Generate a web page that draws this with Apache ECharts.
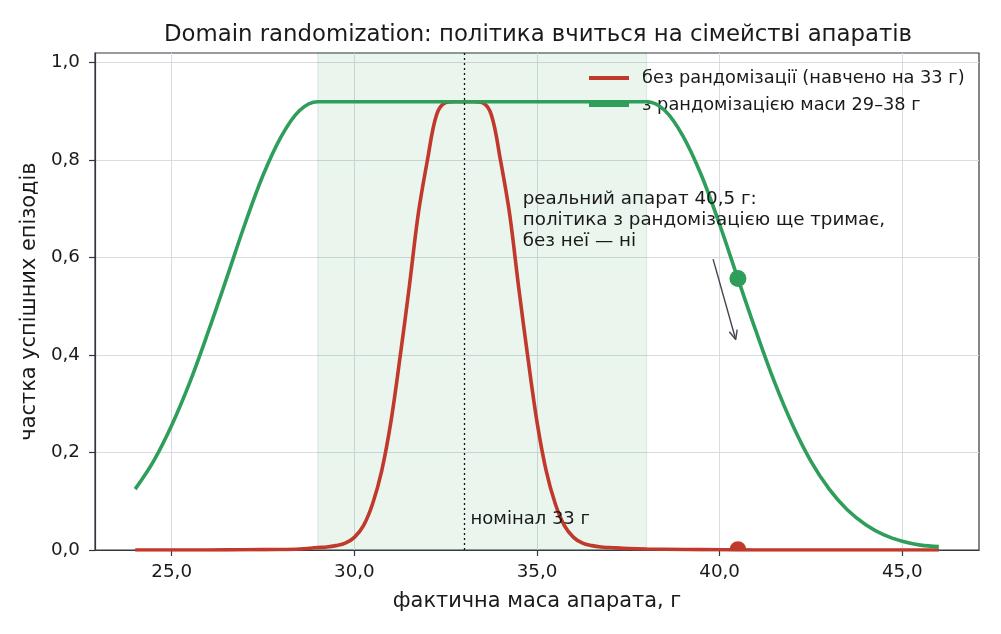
<!DOCTYPE html>
<html>
<head>
<meta charset="utf-8">
<script src="https://cdn.jsdelivr.net/npm/echarts@6/dist/echarts.min.js"></script>
<style>html,body{margin:0;padding:0;background:#fff}#c{width:1001px;height:634px}</style>
</head>
<body>
<div id="c"></div>
<script>
// ---- data ----
const redMass = [24, 25, 26, 27, 28, 28.5, 29, 29.25, 29.5, 29.75, 30, 30.25, 30.5, 30.75, 31, 31.25, 31.5, 31.75, 32, 32.25, 32.5, 32.75, 33, 33.25, 33.5, 33.75, 34, 34.25, 34.5, 34.75, 35, 35.25, 35.5, 35.75, 36, 36.25, 36.5, 36.75, 37, 37.5, 38, 39, 40, 41, 42, 43, 44, 45, 46];
const redSuccess = [0, 0, 0, 0.0005, 0.001, 0.002, 0.005, 0.006, 0.009, 0.014, 0.026, 0.05, 0.095, 0.163, 0.263, 0.395, 0.538, 0.69, 0.80, 0.893, 0.918, 0.92, 0.92, 0.92, 0.918, 0.893, 0.80, 0.69, 0.538, 0.395, 0.263, 0.163, 0.095, 0.05, 0.026, 0.014, 0.009, 0.006, 0.005, 0.003, 0.002, 0.001, 0.0005, 0, 0, 0, 0, 0, 0];
const greenMass = [24, 24.5, 25, 25.5, 26, 26.5, 27, 27.5, 28, 28.5, 29, 29.5, 30, 30.5, 31, 31.5, 32, 32.5, 33, 33.5, 34, 34.5, 35, 35.5, 36, 36.5, 37, 37.5, 38, 38.5, 39, 39.5, 40, 40.5, 41, 41.5, 42, 42.5, 43, 43.5, 44, 44.5, 45, 45.5, 46];
const greenSuccess = [0.125, 0.182, 0.256, 0.345, 0.448, 0.557, 0.668, 0.769, 0.849, 0.902, 0.92, 0.92, 0.92, 0.92, 0.92, 0.92, 0.92, 0.92, 0.92, 0.92, 0.92, 0.92, 0.92, 0.92, 0.92, 0.92, 0.92, 0.92, 0.92, 0.902, 0.849, 0.769, 0.668, 0.557, 0.448, 0.345, 0.256, 0.182, 0.125, 0.082, 0.052, 0.031, 0.018, 0.010, 0.007];
const xTicks = [25, 30, 35, 40, 45];
const yTicks = [0, 0.2, 0.4, 0.6, 0.8, 1.0];
const randBand = [29, 38];
const nominalMass = 33;
const realMass = 40.5;
const realRed = 0.0003;
const realGreen = 0.557;
const arrowFrom = [39.82, 0.597];
const arrowTo = [40.44, 0.432];
const notePos = [34.61, 0.676];
const nominalLabelPos = [33.18, 0.062];
const seriesNames = ['без рандомізації (навчено на 33 г)', 'з рандомізацією маси 29–38 г'];
const noteText = 'реальний апарат 40,5 г:\nполітика з рандомізацією ще тримає,\nбез неї — ні';
const nominalText = 'номінал 33 г';
const titleText = 'Domain randomization: політика вчиться на сімействі апаратів';
const xName = 'фактична маса апарата, г';
const yName = 'частка успішних епізодів';

const RED = '#c0392b', GREEN = '#2e9e5a', FONT = 'DejaVu Sans', INK = '#1a1a1a', AX = '#35353f';
const fmt = v => v.toFixed(1).replace('.', ',');
const zip = (a, b) => a.map((v, i) => [v, b[i]]);
const dotRender = color => function (params, api) {
  const p = api.coord([api.value(0), api.value(1)]);
  return {type: 'circle', shape: {cx: p[0], cy: p[1], r: 8.5}, style: {fill: color}};
};

const chart = echarts.init(document.getElementById('c'), null, {renderer: 'canvas'});
chart.setOption({
  animation: false,
  backgroundColor: '#fff',
  textStyle: {fontFamily: FONT},
  title: {text: titleText, left: 533, top: 19, textAlign: 'center',
    textStyle: {fontFamily: FONT, fontSize: 22.8, fontWeight: 'normal', color: INK}},
  legend: {orient: 'vertical', left: 589, top: 69, padding: 0, itemWidth: 40, itemHeight: 4, itemGap: 9, icon: 'rect',
    data: seriesNames, textStyle: {fontFamily: FONT, fontSize: 17.8, color: INK, padding: [0, 0, 0, 8]}},
  grid: {left: 95, right: 22, top: 53, bottom: 84, show: true, borderColor: AX, borderWidth: 1.2, backgroundColor: 'transparent'},
  xAxis: {type: 'value', min: 22.9, max: 47.1,
    name: xName, nameLocation: 'middle', nameGap: 41,
    nameTextStyle: {fontFamily: FONT, fontSize: 20.9, color: INK},
    axisLine: {show: true, onZero: false, lineStyle: {color: AX, width: 1.2}},
    axisTick: {show: true, length: 6, lineStyle: {color: AX, width: 1.2}, customValues: xTicks},
    axisLabel: {customValues: xTicks, formatter: fmt, margin: 13, fontFamily: FONT, fontSize: 18.3, color: INK},
    splitLine: {show: true, lineStyle: {color: '#dadae2', width: 1}}},
  yAxis: {type: 'value', min: 0, max: 1.02,
    name: yName, nameLocation: 'middle', nameGap: 46, nameRotate: 90,
    nameTextStyle: {fontFamily: FONT, fontSize: 20.9, color: INK},
    axisLine: {show: true, lineStyle: {color: AX, width: 1.2}},
    axisTick: {show: true, length: 6, lineStyle: {color: AX, width: 1.2}, customValues: yTicks},
    axisLabel: {customValues: yTicks, formatter: fmt, margin: 15, fontFamily: FONT, fontSize: 18.3, color: INK},
    splitLine: {show: true, lineStyle: {color: '#dadae2', width: 1}}},
  series: [
    {name: seriesNames[0], type: 'line', data: zip(redMass, redSuccess), showSymbol: false, smooth: 0.35,
      lineStyle: {color: RED, width: 3.6}, itemStyle: {color: RED}, z: 3,
      markArea: {silent: true, itemStyle: {color: 'rgba(46,158,90,0.10)', borderColor: 'rgba(46,158,90,0.16)', borderWidth: 1},
        data: [[{xAxis: randBand[0]}, {xAxis: randBand[1]}]]},
      markLine: {silent: true, symbol: 'none', label: {show: false},
        lineStyle: {color: '#111', type: [2, 3], width: 1.3}, data: [{xAxis: nominalMass}]}},
    {name: seriesNames[1], type: 'line', data: zip(greenMass, greenSuccess), showSymbol: false, smooth: 0.35,
      lineStyle: {color: GREEN, width: 3.6}, itemStyle: {color: GREEN}, z: 4},
    {type: 'custom', data: [[realMass, realRed]], renderItem: dotRender(RED), clip: true, z: 5, silent: true},
    {type: 'custom', data: [[realMass, realGreen]], renderItem: dotRender(GREEN), clip: true, z: 6, silent: true},
    {type: 'custom', z: 7, silent: true, data: [[arrowFrom[0], arrowFrom[1]]],
      renderItem: function (params, api) {
        const a = api.coord(arrowFrom), b = api.coord(arrowTo);
        const dx = b[0] - a[0], dy = b[1] - a[1], L = Math.hypot(dx, dy);
        const ux = dx / L, uy = dy / L, h = 10, ang = 0.42;
        const rot = (x, y, t) => [x * Math.cos(t) - y * Math.sin(t), x * Math.sin(t) + y * Math.cos(t)];
        const l1 = rot(-ux, -uy, ang), l2 = rot(-ux, -uy, -ang);
        const np = api.coord(notePos), nl = api.coord(nominalLabelPos);
        const ls = {stroke: '#44444e', lineWidth: 1.4};
        return {type: 'group', children: [
          {type: 'line', shape: {x1: a[0], y1: a[1], x2: b[0], y2: b[1]}, style: ls},
          {type: 'line', shape: {x1: b[0], y1: b[1], x2: b[0] + l1[0] * h, y2: b[1] + l1[1] * h}, style: ls},
          {type: 'line', shape: {x1: b[0], y1: b[1], x2: b[0] + l2[0] * h, y2: b[1] + l2[1] * h}, style: ls},
          {type: 'text', x: np[0], y: np[1], style: {text: noteText, fill: INK, fontFamily: FONT, fontSize: 18.3,
            lineHeight: 21, align: 'left', verticalAlign: 'middle'}},
          {type: 'text', x: nl[0], y: nl[1], style: {text: nominalText, fill: INK, fontFamily: FONT, fontSize: 18,
            align: 'left', verticalAlign: 'middle'}}
        ]};
      }}
  ]
});
</script>
</body>
</html>
